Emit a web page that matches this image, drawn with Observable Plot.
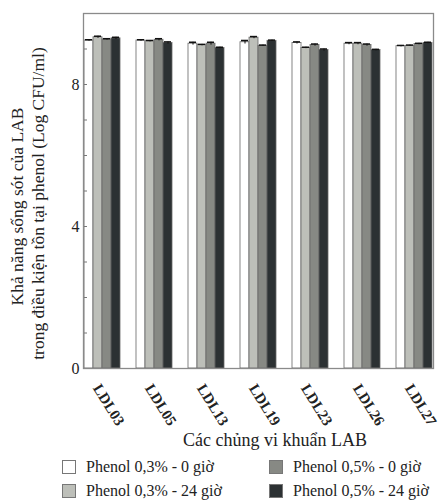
<!DOCTYPE html>
<html><head><meta charset="utf-8">
<script src="https://cdn.jsdelivr.net/npm/d3@7"></script>
<script src="https://cdn.jsdelivr.net/npm/@observablehq/plot@0.6"></script>
<style>
body{margin:0;background:#fff;color:#222;}
#wrap{position:relative;width:443px;height:500px;overflow:hidden;font-family:'Liberation Serif','DejaVu Serif',serif;}
#chart{position:absolute;left:0;top:0;}
.ylab{position:absolute;white-space:nowrap;font-size:17.5px;font-family:'Liberation Serif','DejaVu Serif',serif;}
.xlab{position:absolute;left:275px;top:440px;transform:translate(-50%,-50%);font-size:18px;white-space:nowrap;font-family:'Liberation Serif','DejaVu Serif',serif;}
.leg{position:absolute;font-size:16px;white-space:nowrap;display:flex;align-items:center;font-family:'Liberation Serif','DejaVu Serif',serif;}
.leg span.box{display:inline-block;width:12px;height:12px;border:1px solid #777;margin-right:10px;}
</style></head><body><div id="wrap"><div id="chart"></div></div>
<script>
const strains = ["LDL03","LDL05","LDL13","LDL19","LDL23","LDL26","LDL27"];
const seriesNames = ["Phenol 0,3% - 0 giờ","Phenol 0,3% - 24 giờ","Phenol 0,5% - 0 giờ","Phenol 0,5% - 24 giờ"];
const seriesColors = ["#ffffff","#bdbfb9","#878984","#2c3133"];
const phenol03_0h  = [9.24, 9.24, 9.15, 9.19, 9.17, 9.15, 9.08];
const phenol03_24h = [9.33, 9.22, 9.11, 9.32, 9.03, 9.15, 9.09];
const phenol05_0h  = [9.27, 9.26, 9.15, 9.09, 9.11, 9.11, 9.14];
const phenol05_24h = [9.30, 9.17, 9.03, 9.23, 8.97, 8.97, 9.17];
const err03_0h  = [0.02, 0.02, 0.04, 0.05, 0.03, 0.03, 0.02];
const err03_24h = [0.03, 0.02, 0.02, 0.03, 0.02, 0.03, 0.02];
const err05_0h  = [0.02, 0.03, 0.04, 0.02, 0.03, 0.03, 0.02];
const err05_24h = [0.03, 0.03, 0.02, 0.02, 0.03, 0.02, 0.02];
const yTicks = [0,1,2,3,4,5,6,7,8,9,10];
const yTickLabels = [0,4,8];
const yTitle = ["Khả năng sống sót của LAB","trong điều kiện tồn tại phenol (Log CFU/ml)"];
const xTitle = "Các chủng vi khuẩn LAB";

const values = [phenol03_0h, phenol03_24h, phenol05_0h, phenol05_24h];
const errs = [err03_0h, err03_24h, err05_0h, err05_24h];
const data = [];
strains.forEach((s, i) => seriesNames.forEach((n, j) => data.push({strain: s, series: n, value: values[j][i], err: errs[j][i]})));

const chart = Plot.plot({
  width: 443, height: 448,
  marginLeft: 67, marginRight: 1, marginTop: 13, marginBottom: 80,
  style: {fontFamily: "'Liberation Serif', 'DejaVu Serif', serif", fontSize: "15px", color: "#222", background: "transparent"},
  fx: {domain: strains, paddingInner: 0.27, paddingOuter: 0.24, align: 0.64, label: null, axis: null},
  x: {domain: seriesNames, padding: 0, axis: null},
  y: {domain: [0, 10], label: null},
  color: {domain: seriesNames, range: seriesColors},
  marks: [
    Plot.barY(data, {fx: "strain", x: "series", y: "value", fill: "series", stroke: "#666", strokeWidth: 0.8}),
    Plot.ruleX(data, {fx: "strain", x: "series", y1: d => d.value - d.err, y2: d => d.value + d.err, stroke: "#111", strokeWidth: 1}),
    Plot.tickY(data, {fx: "strain", x: "series", y: d => d.value + d.err, stroke: "#111", strokeWidth: 1.5, inset: 1}),
    Plot.axisY({ticks: yTicks, tickSize: -4, text: null, stroke: "#777"}),
    Plot.axisY({ticks: yTickLabels, tickSize: 0, tickPadding: 4, fontSize: 16}),
    Plot.text(strains, {fx: d => d, text: d => d, frameAnchor: "bottom", rotate: 58, textAnchor: "start", lineAnchor: "middle", dx: -6, dy: 17, fontWeight: "bold", fontSize: 15, fill: "#222"}),
    Plot.frame({facet: "super", stroke: "#8a8a8a", strokeWidth: 1.3})
  ]
});
document.getElementById("chart").appendChild(chart);

const wrap = document.getElementById("wrap");
const ylCenters = [[18, 206], [38, 203]];
yTitle.forEach((t, k) => {
  const d = document.createElement("div");
  d.className = "ylab";
  d.textContent = t;
  wrap.appendChild(d);
  const w = d.offsetWidth, h = d.offsetHeight;
  d.style.left = (ylCenters[k][0] - w / 2) + "px";
  d.style.top = (ylCenters[k][1] - h / 2) + "px";
  d.style.transform = "rotate(-90deg)";
});
const xl = document.createElement("div");
xl.className = "xlab"; xl.textContent = xTitle; wrap.appendChild(xl);

const legPos = [[62, 467], [62, 491], [269, 467], [269, 491]];
seriesNames.forEach((n, j) => {
  const d = document.createElement("div");
  d.className = "leg";
  d.style.left = legPos[j][0] + "px";
  d.style.top = (legPos[j][1] - 10) + "px";
  d.style.height = "20px";
  const b = document.createElement("span");
  b.className = "box"; b.style.background = seriesColors[j];
  d.appendChild(b);
  d.appendChild(document.createTextNode(n));
  wrap.appendChild(d);
});
</script></body></html>
